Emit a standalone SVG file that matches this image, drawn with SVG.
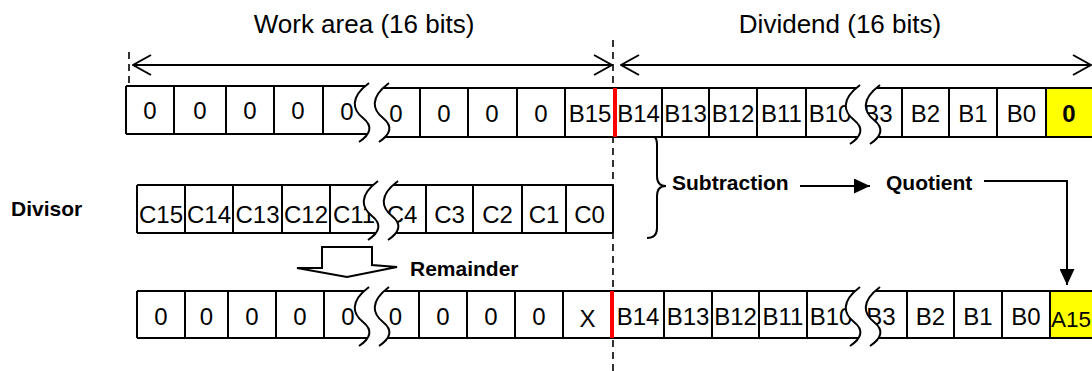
<svg xmlns="http://www.w3.org/2000/svg" width="1092" height="371" viewBox="0 0 1092 371">
<defs>
<style>
.c{font-family:"Liberation Sans",Arial,sans-serif;font-size:24px;text-anchor:middle;fill:#000}
.b{font-family:"Liberation Sans",Arial,sans-serif;font-size:21px;font-weight:bold;fill:#000}
.t{font-family:"Liberation Sans",Arial,sans-serif;font-size:26px;fill:#000;text-anchor:middle}
.ln{stroke:#000;stroke-width:2;fill:none}
.red{stroke:#f00;stroke-width:4}
.dash{stroke:#000;stroke-width:1.6;stroke-dasharray:7 5;fill:none}
.yel{fill:#ff0}
</style>
<g id="brk">
<path d="M12 -3 C-8 12 -4 24 6 32 C16 40 14 48 2 56 L22 56 C34 48 36 40 26 32 C16 24 12 12 32 -3 Z" fill="#fff"/>
<path d="M12 -3 C-8 12 -4 24 6 32 C16 40 14 48 2 56" class="ln"/>
<path d="M32 -3 C12 12 16 24 26 32 C36 40 34 48 22 56" class="ln"/>
</g>
<marker id="oa" viewBox="0 0 20 22" refX="19" refY="11" markerWidth="20" markerHeight="22" markerUnits="userSpaceOnUse" orient="auto-start-reverse">
<path d="M1 1 L19 11 L1 21" fill="none" stroke="#000" stroke-width="2"/>
</marker>
<marker id="fa" viewBox="0 0 16 15" refX="16" refY="7.5" markerWidth="16" markerHeight="15" markerUnits="userSpaceOnUse" orient="auto">
<path d="M0 0 L16 7.5 L0 15 Z" fill="#000"/>
</marker>
</defs>
<rect width="1092" height="371" fill="#fff"/>

<g id="connectors">
<line class="dash" x1="613" y1="40" x2="613" y2="371"/>
<line class="dash" x1="129" y1="52" x2="129" y2="85"/>
<line class="ln" x1="133" y1="65" x2="612" y2="65" marker-start="url(#oa)" marker-end="url(#oa)"/>
<line class="ln" x1="621" y1="65" x2="1091" y2="65" marker-start="url(#oa)" marker-end="url(#oa)"/>
<path class="ln" d="M647 134 Q657 134 657 144 V176 Q657 186 666 186 Q657 186 657 196 V228 Q657 238 647 238"/>
<line class="ln" x1="800" y1="186" x2="870" y2="186" marker-end="url(#fa)"/>
<path class="ln" d="M984 181 H1067 V285" marker-end="url(#fa)"/>
<path d="M322 247 H372 V265 L397 267 L347 277 L297 268 L322 268 Z" fill="#fff" stroke="#000" stroke-width="2" stroke-linejoin="miter"/>
</g>

<g id="labels">
<text class="t" x="364" y="33">Work area (16 bits)</text>
<text class="t" x="840" y="33">Dividend (16 bits)</text>
<text class="b" x="11" y="216">Divisor</text>
<text class="b" x="672" y="190">Subtraction</text>
<text class="b" x="886" y="190">Quotient</text>
<text class="b" x="410" y="276">Remainder</text>
</g>

<g id="row-top">
<rect x="126" y="86" width="246" height="48" fill="#fff"/>
<rect x="372" y="88" width="720" height="49" fill="#fff"/>
<rect class="yel" x="1046" y="88" width="48" height="49"/>
<path class="ln" d="M126 86 H372 M126 134 H372 M126 86 V134 M174 86 V134 M226 86 V134 M274 86 V134 M323 86 V134"/>
<path class="ln" d="M372 88 H1094 M372 137 H1094 M420 88 V137 M468 88 V137 M517 88 V137 M565 88 V137 M662 88 V137 M709 88 V137 M757 88 V137 M806 88 V137 M902 88 V137 M949 88 V137 M997 88 V137 M1046 88 V137"/>
<text class="c" x="150" y="119">0</text>
<text class="c" x="200" y="119">0</text>
<text class="c" x="250" y="119">0</text>
<text class="c" x="298" y="119">0</text>
<text class="c" x="347" y="120">0</text>
<text class="c" x="396" y="122">0</text>
<text class="c" x="444" y="122">0</text>
<text class="c" x="492" y="122">0</text>
<text class="c" x="541" y="122">0</text>
<text class="c" x="590" y="122">B15</text>
<text class="c" x="638.5" y="122">B14</text>
<text class="c" x="685.5" y="122">B13</text>
<text class="c" x="733" y="122">B12</text>
<text class="c" x="781.5" y="122">B11</text>
<text class="c" x="830" y="122">B10</text>
<text class="c" x="878" y="122">B3</text>
<text class="c" x="925.5" y="122">B2</text>
<text class="c" x="973" y="122">B1</text>
<text class="c" x="1021.5" y="122">B0</text>
<text class="c" x="1069" y="122" font-weight="bold">0</text>
<use href="#brk" x="357" y="86"/>
<use href="#brk" x="848" y="88"/>
<line class="red" x1="615" y1="88" x2="615" y2="137"/>
</g>

<g id="row-divisor">
<path class="ln" d="M137 185 H613 M137 233 H613 M137 185 V233 M185 185 V233 M233 185 V233 M282 185 V233 M330 185 V233 M426 185 V233 M473 185 V233 M522 185 V233 M566 185 V233 M613 185 V233"/>
<text class="c" x="161" y="223">C15</text>
<text class="c" x="209" y="223">C14</text>
<text class="c" x="257.5" y="223">C13</text>
<text class="c" x="306" y="223">C12</text>
<text class="c" x="354" y="223">C11</text>
<text class="c" x="402" y="223">C4</text>
<text class="c" x="449.5" y="223">C3</text>
<text class="c" x="497.5" y="223">C2</text>
<text class="c" x="544" y="223">C1</text>
<text class="c" x="589.5" y="223">C0</text>
<use href="#brk" x="366" y="184"/>
</g>

<g id="row-result">
<rect x="137" y="291" width="955" height="47" fill="#fff"/>
<rect class="yel" x="1050" y="291" width="44" height="47"/>
<path class="ln" d="M137 291 H1094 M137 338 H1094 M137 291 V338 M185 291 V338 M228 291 V338 M276 291 V338 M324 291 V338 M419 291 V338 M467 291 V338 M515 291 V338 M563 291 V338 M664 291 V338 M712 291 V338 M759 291 V338 M807 291 V338 M907 291 V338 M954 291 V338 M1002 291 V338 M1050 291 V338"/>
<text class="c" x="161" y="325">0</text>
<text class="c" x="206.5" y="325">0</text>
<text class="c" x="252" y="325">0</text>
<text class="c" x="300" y="325">0</text>
<text class="c" x="348" y="325">0</text>
<text class="c" x="395.5" y="325">0</text>
<text class="c" x="443" y="325">0</text>
<text class="c" x="491" y="325">0</text>
<text class="c" x="539" y="325">0</text>
<text class="c" x="587.5" y="327">X</text>
<text class="c" x="638" y="325">B14</text>
<text class="c" x="688" y="325">B13</text>
<text class="c" x="735.5" y="325">B12</text>
<text class="c" x="783" y="325">B11</text>
<text class="c" x="831" y="325">B10</text>
<text class="c" x="881" y="325">B3</text>
<text class="c" x="930.5" y="325">B2</text>
<text class="c" x="978" y="325">B1</text>
<text class="c" x="1026" y="325">B0</text>
<text class="c" x="1051" y="327" style="text-anchor:start;font-size:22.5px">A15</text>
<use href="#brk" x="357" y="290"/>
<use href="#brk" x="848" y="290"/>
<line class="red" x1="612" y1="291" x2="612" y2="338"/>
</g>
</svg>
